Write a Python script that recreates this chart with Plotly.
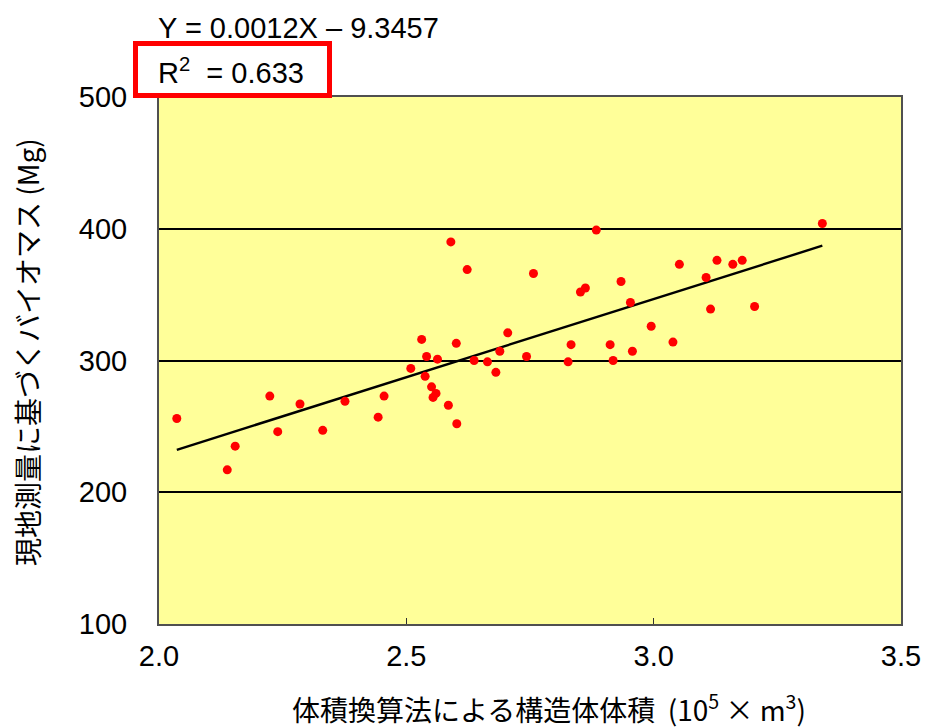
import numpy as np
import plotly.graph_objects as go

# Structure volume (10^5 m3) and surveyed biomass (Mg)
volume = [2.036, 2.138, 2.154, 2.224, 2.240, 2.285, 2.331, 2.376, 2.443, 2.455,
          2.509, 2.531, 2.541, 2.563, 2.538, 2.551, 2.560, 2.554, 2.585, 2.590,
          2.623, 2.884, 2.757, 3.052, 2.934, 2.852, 2.862, 2.953, 2.995, 3.039,
          2.912, 2.957, 2.918, 2.833, 2.827, 2.743, 2.705, 2.689, 2.681, 2.664,
          2.637, 2.601, 2.602, 3.341, 3.128, 3.160, 3.179, 3.106, 3.115, 3.204]
biomass = [256, 217, 235, 273, 246, 267, 247, 269, 257, 273,
           294, 316, 303, 301, 288, 280, 275, 272, 266, 390,
           369, 399, 366, 373, 360, 352, 355, 344, 326, 314,
           312, 307, 300, 312, 299, 303, 321, 307, 291, 299,
           300, 313, 252, 404, 376, 373, 376, 363, 339, 341]

equation_text = "Y = 0.0012X \u2013 9.3457"
r2_text = "R<sup>2</sup>  = 0.633"
x_title = "体積換算法による構造体体積  (10<sup>5</sup> × m<sup>3</sup>)"
y_title = "現地測量に基づくバイオマス (Mg)"
x_ticks = [2.0, 2.5, 3.0, 3.5]
y_ticks = [100, 200, 300, 400, 500]

x = np.array(volume)
y = np.array(biomass)
slope, intercept = np.polyfit(x, y, 1)
xs = np.sort(x)
fit = slope * xs + intercept

OFF = 8  # page body margin
W, H = 929 - 2 * OFF, 728 - OFF
L, T = 159 - OFF, 97 - OFF
pw, ph = 742, 527
R = W - L - pw
B = H - T - ph

def px(v):
    return (v - OFF - L) / pw

def py(v):
    return (T + ph - (v - OFF)) / ph

fig = go.Figure()
fig.add_trace(go.Scatter(x=xs, y=fit, mode="lines",
                         line=dict(color="black", width=2.4), showlegend=False))
fig.add_trace(go.Scatter(x=volume, y=biomass, mode="markers",
                         marker=dict(color="#FF0000", size=9, line=dict(width=0)),
                         showlegend=False))

font = "Liberation Sans, Arial, sans-serif"
cjk = "Noto Sans CJK JP, Liberation Sans, sans-serif"

fig.update_layout(
    width=W, height=H,
    margin=dict(l=L, r=R, t=T, b=B, autoexpand=False),
    paper_bgcolor="white",
    plot_bgcolor="#FFFF99",
    font=dict(family=font, color="black"),
    xaxis=dict(range=[2.0, 3.5], tickvals=x_ticks, tickformat=".1f",
               showgrid=False, zeroline=False, automargin=False,
               showline=True, mirror=True, linecolor="#505050", linewidth=2,
               ticks="inside", ticklen=6, tickcolor="#303030", tickwidth=1,
               tickfont=dict(size=29, family=font), ticklabelstandoff=5,
               ticklabeloverflow="allow"),
    yaxis=dict(range=[100, 500], tickvals=y_ticks, automargin=False,
               showgrid=True, gridcolor="black", gridwidth=1.5, zeroline=False,
               showline=True, mirror=True, linecolor="#505050", linewidth=2,
               ticks="", tickfont=dict(size=29, family=font), ticklabelstandoff=24),
)

fig.add_shape(type="rect", xref="paper", yref="paper",
              x0=px(135.5), x1=px(329.5), y0=py(95.5), y1=py(43.5),
              line=dict(color="#FF0000", width=5), fillcolor="white", layer="above")

fig.add_annotation(text=equation_text, xref="paper", yref="paper",
                   x=px(156), y=py(28), xanchor="left", yanchor="middle",
                   showarrow=False, font=dict(size=29, family=font))
fig.add_annotation(text=r2_text, xref="paper", yref="paper",
                   x=px(156), y=py(71), xanchor="left", yanchor="middle",
                   showarrow=False, font=dict(size=29, family=font))
fig.add_annotation(text=x_title, xref="paper", yref="paper",
                   x=px(549), y=py(707), xanchor="center", yanchor="middle",
                   showarrow=False, font=dict(size=28, family=cjk))
fig.add_annotation(text=y_title, xref="paper", yref="paper",
                   x=px(27), y=py(352), xanchor="center", yanchor="middle",
                   textangle=-90, showarrow=False, font=dict(size=28, family=cjk))

fig.write_html("out.html")
